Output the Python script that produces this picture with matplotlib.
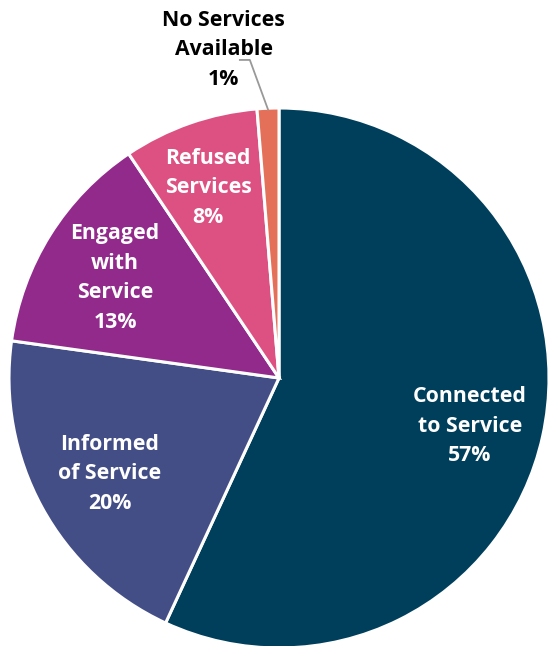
import matplotlib.pyplot as plt
import numpy as np

# Share of cases by service outcome
categories = ['Connected\nto Service', 'Informed\nof Service', 'Engaged\nwith\nService',
              'Refused\nServices', 'No Services\nAvailable']
values = [56.9, 20.3, 13.4, 8.1, 1.3]
pct_labels = ['57%', '20%', '13%', '8%', '1%']
colors = ['#003F5C', '#444E86', '#922A8C', '#DD5182', '#E4705A']

plt.rcParams['font.family'] = ['Open Sans', 'DejaVu Sans']

fig = plt.figure(figsize=(5.48, 6.46), dpi=100)
# pie centre ~ (279, 378) px, radius ~ 270 px
r_px = 270
ax = fig.add_axes([(279 - r_px) / 548, (646 - 378 - r_px) / 646,
                   2 * r_px / 548, 2 * r_px / 646])

wedges, _ = ax.pie(values, colors=colors, startangle=90, counterclock=False,
                   wedgeprops=dict(edgecolor='white', linewidth=2.2))
ax.set_xlim(-1, 1)
ax.set_ylim(-1, 1)
ax.set_aspect('equal')
ax.axis('off')

fs = 15.3
ls = 1.55

# label centres inside the pie (in pie-radius units)
label_pos = [(0.707, -0.178), (-0.626, -0.355), (-0.607, 0.37), (-0.263, 0.704)]
for (x, y), cat, pct in zip(label_pos, categories, pct_labels):
    ax.text(x, y, cat + '\n' + pct, ha='center', va='center', color='white',
            fontsize=fs, fontweight='bold', linespacing=ls)

# small slice labelled outside with a leader line
w = wedges[-1]
mid = np.deg2rad((w.theta1 + w.theta2) / 2)
ax.text(-0.205, 1.215, categories[-1] + '\n' + pct_labels[-1],
        ha='center', va='center', fontsize=fs, fontweight='bold',
        color='black', linespacing=ls, clip_on=False)
ax.plot([-0.145, -0.108, 0.995 * np.cos(mid)], [1.178, 1.178, 0.995 * np.sin(mid)],
        color='#999999', lw=1.3, clip_on=False)

fig.savefig('out.png', dpi=100)
